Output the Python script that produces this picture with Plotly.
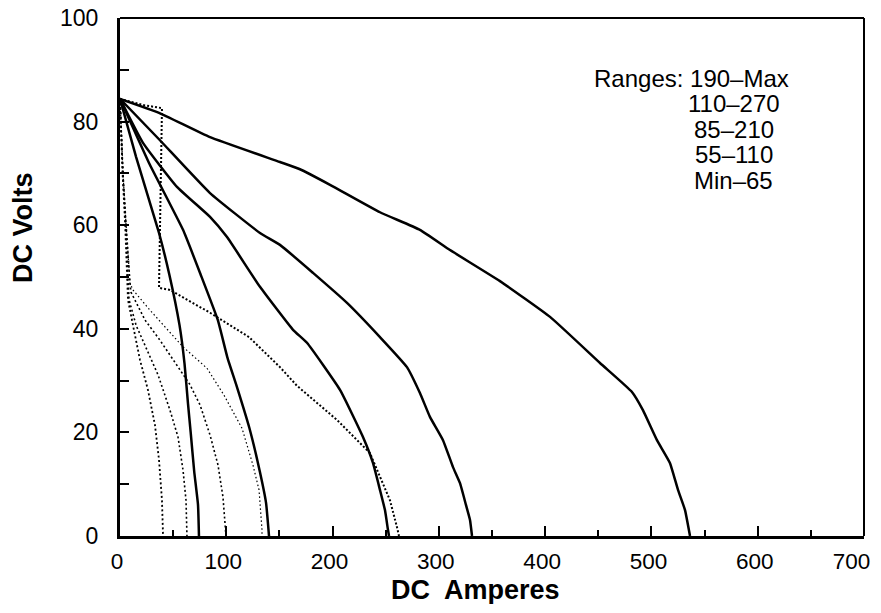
import plotly.graph_objects as go

# ---- data ----
# solid curves (maximum setting of each range)
s1_amps = [0, 36.7, 84.7, 150.5, 169.3, 197.6, 244.6, 282.2, 310.5, 357.5, 404.6, 451.6, 481.7, 492.0, 505.2, 517.4, 525.0, 531.6, 536.3]
s1_volts = [84.4, 81.7, 77.0, 72.2, 70.8, 67.8, 62.5, 59.1, 55.2, 49.2, 42.3, 33.4, 27.8, 24.3, 18.5, 14.1, 8.9, 5.0, 0]

s2_amps = [0, 37.6, 84.7, 131.7, 150.5, 181.6, 213.6, 244.6, 270.0, 282.2, 291.6, 303.9, 313.3, 319.9, 325.5, 329.3, 331.2]
s2_volts = [84.4, 76.4, 66.2, 58.5, 56.2, 50.8, 45.0, 38.4, 32.6, 27.6, 23.0, 18.5, 13.3, 10.2, 6.0, 3.1, 0]

s3_amps = [0, 21.6, 53.6, 84.7, 100.7, 131.7, 162.8, 175.9, 207.0, 228.6, 238.0, 244.6, 249.3, 252.1, 253.1]
s3_volts = [84.4, 75.9, 67.4, 61.6, 57.7, 48.1, 39.8, 37.3, 28.2, 19.1, 14.1, 8.9, 5.0, 1.2, 0]

s4_amps = [0, 27.3, 59.3, 76.0, 92.0, 101.0, 110.0, 121.8, 131.5, 137.4, 140.2]
s4_volts = [84.4, 72.0, 59.1, 50.4, 41.7, 34.5, 28.8, 20.8, 12.5, 6.4, 0]

s5_amps = [0, 15.1, 36.7, 46.5, 56.0, 60.7, 64.0, 66.5, 69.8, 73.4, 74.3]
s5_volts = [84.4, 73.2, 58.5, 50.4, 40.7, 33.3, 25.5, 20.0, 12.5, 6.0, 0]

# dotted curves (minimum setting of each range)
d1_amps = [0, 21.6, 39.5, 36.7, 47.0, 84.7, 121.4, 150.5, 166.5, 204.2, 235.2, 244.6, 254.0, 260.6, 262.5]
d1_volts = [84.4, 83.2, 82.6, 47.9, 47.5, 43.1, 38.4, 32.6, 29.0, 22.4, 16.0, 11.4, 6.9, 1.7, 0]

d2_amps = [0, 2.8, 5.6, 7.5, 9.4, 12.2, 28.2, 59.3, 81.8, 97.8, 114.8, 125.1, 130.8, 133.6, 133.6]
d2_volts = [84.4, 70.0, 60.4, 53.9, 48.8, 47.5, 43.6, 36.5, 32.4, 27.2, 20.8, 13.7, 8.9, 1.2, 0]

d3_amps = [0, 2.8, 5.6, 7.5, 9.4, 10.3, 23.5, 37.6, 51.7, 65.9, 75.3, 84.7, 92.2, 96.9, 99.7]
d3_volts = [84.4, 70.0, 60.4, 53.9, 48.8, 47.1, 41.7, 37.8, 33.6, 29.2, 25.3, 19.5, 13.7, 7.5, 0]

d4_amps = [0, 2.6, 5.2, 7.0, 8.5, 15.1, 23.5, 35.8, 47.0, 54.6, 59.3, 62.1, 63.0]
d4_volts = [84.4, 70.0, 60.4, 52.0, 45.6, 40.7, 36.9, 31.1, 24.3, 19.1, 12.7, 6.9, 0]

d5_amps = [0, 2.4, 4.8, 6.5, 7.5, 12.2, 18.8, 26.3, 32.9, 36.7, 39.5, 40.5]
d5_volts = [84.4, 70.0, 60.4, 52.0, 45.6, 40.7, 34.0, 28.2, 21.4, 14.7, 6.9, 0]

range_header = "Ranges: 190–Max"
range_labels = ["110–270", "85–210", "55–110", "Min–65"]

x_ticks = [0, 100, 200, 300, 400, 500, 600, 700]
# last label padded with non-collapsing spaces so it stays inside the page
x_tick_text = ["0", "100", "200", "300", "400", "500", "600", "700\u2007\u2008"]
y_ticks = [0, 20, 40, 60, 80, 100]

FONT = "Liberation Sans, Arial, Helvetica, sans-serif"

fig = go.Figure()

solid = [(s1_amps, s1_volts), (s2_amps, s2_volts), (s3_amps, s3_volts),
         (s4_amps, s4_volts), (s5_amps, s5_volts)]
for a, v in solid:
    fig.add_trace(go.Scatter(x=a, y=v, mode="lines",
                             line=dict(color="black", width=2.5,
                                       shape="spline", smoothing=0.4),
                             showlegend=False, hoverinfo="skip"))

dotted = [(d1_amps, d1_volts, 2.0, "2px,2px"),
          (d2_amps, d2_volts, 1.2, "1.5px,2.5px"),
          (d3_amps, d3_volts, 1.6, "2px,2.5px"),
          (d4_amps, d4_volts, 1.6, "2px,2.5px"),
          (d5_amps, d5_volts, 1.8, "2px,2.5px")]
for a, v, w, d in dotted:
    fig.add_trace(go.Scatter(x=a, y=v, mode="lines",
                             line=dict(color="black", width=w, dash=d),
                             showlegend=False, hoverinfo="skip"))

# range text block
fig.add_annotation(x=444.0, y=88.4, xref="x", yref="y", text=range_header,
                   showarrow=False, xanchor="left", yanchor="middle",
                   font=dict(family=FONT, size=24, color="black"))
label_y = [83.4, 78.5, 73.6, 68.7]
for txt, yy in zip(range_labels, label_y):
    fig.add_annotation(x=577.6, y=yy, xref="x", yref="y", text=txt,
                       showarrow=False, xanchor="center", yanchor="middle",
                       font=dict(family=FONT, size=24, color="black"))

# axis titles
fig.add_annotation(x=0.478, y=-0.104, xref="paper", yref="paper",
                   text="DC\u00a0 Amperes", showarrow=False,
                   xanchor="center", yanchor="middle",
                   font=dict(family=FONT, size=27, color="black", weight="bold"))
fig.add_annotation(x=-0.130, y=0.595, xref="paper", yref="paper",
                   text="DC Volts", showarrow=False, textangle=-90,
                   xanchor="center", yanchor="middle",
                   font=dict(family=FONT, size=27, color="black", weight="bold"))

# top and right frame lines (thinner than the axes)
fig.add_shape(type="line", xref="paper", yref="paper", x0=0, x1=1, y0=1, y1=1,
              line=dict(color="black", width=2))
fig.add_shape(type="line", xref="paper", yref="paper", x0=1, x1=1, y0=0, y1=1,
              line=dict(color="black", width=2))

# the page adds an 8px body margin
fig.update_layout(
    width=873, height=596,
    margin=dict(l=112, r=17, t=10, b=68, autoexpand=False),
    paper_bgcolor="white", plot_bgcolor="white",
    font=dict(family=FONT, color="black"),
    showlegend=False,
)
fig.update_xaxes(range=[0, 700], tickvals=x_ticks, ticktext=x_tick_text,
                 ticks="inside", ticklen=10,
                 tickwidth=2, tickcolor="black", showgrid=False, zeroline=False,
                 showline=True, linewidth=3, linecolor="black", automargin=False,
                 ticklabeloverflow="allow", ticklabelshift=-3,
                 tickfont=dict(family=FONT, size=22.5, color="black"),
                 ticklabelstandoff=3,
                 minor=dict(dtick=50, tick0=0, ticks="inside", ticklen=6,
                            tickwidth=2, tickcolor="black", showgrid=False))
fig.update_yaxes(range=[0, 100], tickvals=y_ticks, ticks="inside", ticklen=9,
                 tickwidth=2, tickcolor="black", showgrid=False, zeroline=False,
                 showline=True, linewidth=3, linecolor="black", automargin=False,
                 ticklabeloverflow="allow",
                 tickfont=dict(family=FONT, size=23, color="black"),
                 ticklabelstandoff=14,
                 minor=dict(dtick=10, tick0=0, ticks="inside", ticklen=9,
                            tickwidth=2, tickcolor="black", showgrid=False))

fig.write_html("out.html")
